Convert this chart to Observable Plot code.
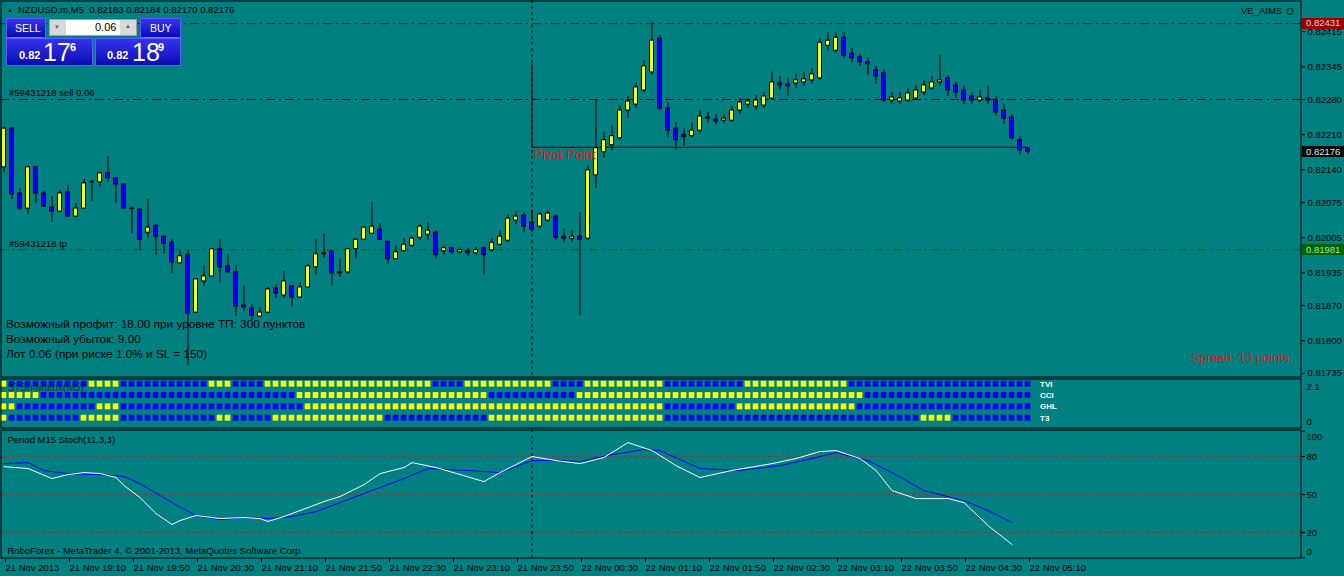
<!DOCTYPE html>
<html><head><meta charset="utf-8">
<script src="https://cdn.jsdelivr.net/npm/d3@7"></script>
<script src="https://cdn.jsdelivr.net/npm/@observablehq/plot@0.6"></script>
<style>
body{margin:0;background:#008080;}
#root{position:relative;width:1344px;height:576px;overflow:hidden;background:#008080;font-family:"Liberation Sans",Arial,sans-serif;}
#root svg{position:absolute;left:0;}
.abs{position:absolute;white-space:nowrap;}
</style></head><body><div id="root"></div>
<script>
// ---------- DATA (NZDUSD.m M5, prices x 1e5) ----------
const open5 = [82145,82222,82093,82063,82145,82093,82065,82057,82095,82047,82063,82115,82115,82133,82123,82111,82063,82061,82015,82029,
82007,81995,81954,81970,81856,81918,81928,81982,81948,81936,81870,81864,81848,81856,81904,81890,81908,81886,81906,81946,
81972,81978,81934,81936,81982,82001,82013,82021,81997,81962,81978,81989,82005,82011,82015,81978,81984,81976,81978,81974,
81984,81980,81991,81999,82039,82049,82035,82027,82039,82047,82007,82003,82007,82003,82129,82175,82189,82203,82258,82270,
82298,82334,82401,82262,82222,82209,82207,82218,82242,82240,82238,82238,82258,82270,82266,82268,82282,82312,82310,82312,
82314,82318,82322,82387,82377,82403,82371,82364,82354,82338,82332,82278,82276,82278,82282,82294,82302,82314,82322,82308,
82298,82286,82278,82282,82278,82258,82244,82199,82183];
const close5 = [82222,82091,82063,82145,82093,82067,82057,82093,82047,82063,82113,82116,82133,82123,82111,82063,82062,82001,82025,82007,
81993,81956,81968,81854,81922,81928,81982,81946,81936,81868,81866,81850,81856,81902,81894,81918,81886,81906,81948,81972,
81974,81934,81936,81982,82001,82025,82027,82001,81962,81976,81991,82003,82027,82019,81970,81984,81976,81980,81974,81980,
81970,81995,82007,82043,82047,82027,82021,82051,82053,82005,82003,82007,82001,82139,82183,82199,82207,82258,82276,82304,
82346,82397,82262,82218,82199,82205,82218,82246,82244,82236,82242,82258,82274,82276,82278,82286,82314,82308,82306,82318,
82320,82330,82393,82397,82403,82367,82362,82354,82350,82326,82278,82284,82282,82292,82298,82308,82314,82318,82298,82294,
82278,82278,82284,82278,82254,82242,82203,82179,82176];
const high5 = [82226,82224,82103,82147,82147,82097,82087,82099,82109,82073,82121,82119,82135,82167,82123,82111,82067,82061,82081,82029,
82007,82001,81979,81980,81922,81950,81982,82001,81972,81950,81910,81872,81866,81906,81912,81938,81908,81916,81952,82001,
82013,81978,81962,81982,82003,82027,82075,82033,81997,81989,82003,82007,82031,82035,82019,81989,81987,81984,81984,81986,
81989,82003,82019,82051,82057,82055,82059,82055,82059,82051,82023,82019,82055,82149,82278,82215,82228,82268,82286,82314,
82358,82433,82407,82274,82234,82222,82234,82258,82254,82250,82250,82266,82282,82282,82288,82294,82334,82326,82322,82330,
82334,82342,82401,82413,82413,82413,82381,82369,82362,82346,82338,82294,82294,82302,82308,82318,82326,82367,82328,82314,
82306,82294,82298,82306,82286,82270,82250,82207,82184];
const low5 = [82135,82081,82059,82051,82073,82065,82035,82055,82045,82045,82063,82077,82105,82115,82073,82063,82013,81980,82005,81970,
81972,81934,81954,81751,81856,81908,81928,81914,81936,81848,81858,81840,81848,81856,81884,81884,81866,81884,81906,81930,
81964,81910,81926,81932,81962,82001,82013,82001,81952,81962,81976,81985,81999,81999,81962,81970,81972,81972,81968,81970,
81930,81976,81987,81995,82031,82015,82015,82023,82035,81999,81995,81995,81850,81999,82103,82163,82179,82199,82242,82262,
82294,82328,82258,82203,82179,82187,82203,82212,82234,82230,82232,82234,82250,82262,82258,82262,82278,82298,82286,82302,
82306,82310,82318,82377,82373,82361,82354,82346,82328,82310,82274,82270,82270,82274,82278,82288,82298,82306,82286,82282,
82270,82270,82274,82270,82248,82230,82199,82169,82170];

const timeLabels = ["21 Nov 2013","21 Nov 19:10","21 Nov 19:50","21 Nov 20:30","21 Nov 21:10","21 Nov 21:50","21 Nov 22:30",
"21 Nov 23:10","21 Nov 23:50","22 Nov 00:30","22 Nov 01:10","22 Nov 01:50","22 Nov 02:30","22 Nov 03:10","22 Nov 03:50",
"22 Nov 04:30","22 Nov 05:10"];
const priceTicks = [0.82415,0.82345,0.82280,0.82210,0.82140,0.82075,0.82005,0.81935,0.81870,0.81800,0.81735];
const slPrice = 0.82431, orderPrice = 0.82280, tpPrice = 0.81981, bidPrice = 0.82176, pivotPrice = 0.82185;
const pivotStemTop = 0.82350;
const daySeparatorBar = 66;

// STSn-Matrix rows: run lengths of Y(yellow)/B(blue)
const rowNames = ["TVI","CCI","GHL","T3"];
const tviRuns = [["Y",1],["B",10],["Y",4],["B",11],["Y",3],["B",4],["Y",21],["B",4],["Y",11],["B",4],["Y",10],["B",10],["Y",13],["B",23]];
const cciRuns = [["Y",5],["B",32],["Y",24],["B",11],["Y",36],["B",21]];
const ghlRuns = [["Y",2],["B",10],["Y",3],["B",23],["Y",45],["B",9],["Y",15],["B",22]];
const t3Runs  = [["Y",1],["B",9],["Y",5],["B",12],["Y",2],["B",5],["Y",14],["B",13],["Y",22],["B",32],["Y",4],["B",10]];

// Stochastic (bar index, value)
const stochMainBars = [0,3,6,8,10,12,14,15,17,19,21,22,24,27,30,32,33,35,37,40,42,45,47,50,51,54,60,62,66,69,72,75,78,81,84,87,91,96,99,102,104,107,109,111,114,118,120,123,126];
const stochMainVals = [72,70.5,62.6,65.7,67.3,66.6,63.4,57.1,47.6,35,26.3,29.4,33.4,31,31.8,31,28.7,32.6,37.3,44.4,48.4,57.8,66.5,71.3,75.2,71.3,60.2,67.3,80,76.8,74.4,79.2,91,84.7,72.8,63.4,69,74.4,78.4,83.9,84.7,78.4,69,53.1,46.8,46.8,43.6,25.5,10.5];
const stochSigBars = [0,3,5,8,12,15,17,21,24,27,30,33,36,39,43,47,50,53,58,62,66,70,72,76,80,82,87,92,97,101,104,108,111,115,120,123,126];
const stochSigVals = [74.4,75.2,68.9,66.5,65.7,64.2,58.6,43.6,33.4,30.2,31.8,31,32.6,36.5,46,55.5,62.6,70.5,68.9,67.3,76.8,76.8,76,81.5,85.5,84.7,70.5,68.9,72.8,78.4,83.1,76.8,67.3,53.1,45.2,37.3,27.9];

// ---------- BUILD ----------
const W = 1344, RIGHT = 43;
const FONT = '"Liberation Sans",Arial,sans-serif';
const xDomain = [-0.4375, 162.1875];
const candles = open5.map((o,i)=>({i, o:o/1e5, c:close5[i]/1e5, h:high5[i]/1e5, l:low5[i]/1e5}));
const expand = runs => runs.flatMap(([v,n]) => Array(n).fill(v));
const cells = [tviRuns,cciRuns,ghlRuns,t3Runs].flatMap((runs,r)=>expand(runs).map((v,i)=>({i,row:3-r,v})));
const mainPts = stochMainBars.map((b,k)=>({i:b,v:stochMainVals[k]}));
const sigPts = stochSigBars.map((b,k)=>({i:b,v:stochSigVals[k]}));
const root = document.getElementById("root");
const DASHDOT = "9,4,2,4";
const baseStyle = {background:"transparent", fontFamily:FONT, fontSize:"9.5px", color:"black", overflow:"visible"};

const p1 = Plot.plot({
  width:W, height:377, marginLeft:0, marginRight:RIGHT, marginTop:0, marginBottom:0,
  style:baseStyle,
  x:{domain:xDomain, axis:null, label:null},
  y:{domain:[0.817268,0.82477], label:null},
  marks:[
    Plot.ruleY([slPrice],{stroke:"#8b0000", strokeDasharray:DASHDOT}),
    Plot.ruleY([orderPrice],{stroke:"black", strokeDasharray:DASHDOT}),
    Plot.ruleY([tpPrice],{stroke:"#006400", strokeDasharray:DASHDOT}),
    Plot.ruleX([daySeparatorBar],{stroke:"black", strokeDasharray:"3,3"}),
    Plot.ruleX([daySeparatorBar],{y1:pivotPrice, y2:pivotStemTop, stroke:"black"}),
    Plot.ruleY([pivotPrice],{x1:daySeparatorBar, x2:128.1, stroke:"black"}),
    Plot.ruleX(candles,{x:"i", y1:"l", y2:"h", stroke:"black"}),
    Plot.rect(candles,{x1:d=>d.i-0.25, x2:d=>d.i+0.25, y1:"o", y2:"c", fill:d=>d.c>=d.o?"#ffff00":"#0000ff", stroke:"black"}),
    Plot.ruleY(candles.filter(d=>Math.abs(d.o-d.c)<0.000005),{y:"o", x1:d=>d.i-0.3, x2:d=>d.i+0.3, stroke:"black"}),
    Plot.axisY({anchor:"right", ticks:priceTicks, tickFormat:d3.format(".5f"), tickSize:3, tickPadding:3, label:null}),
    Plot.frame({stroke:"black", inset:0.5})
  ]
});
p1.style.top = "0px";
root.appendChild(p1);

const p2 = Plot.plot({
  width:W, height:50, marginLeft:0, marginRight:RIGHT, marginTop:0, marginBottom:0,
  style:baseStyle,
  x:{domain:xDomain, axis:null, label:null},
  y:{domain:[-0.909,3.503], axis:null, label:null},
  marks:[
    Plot.rect(cells,{x1:d=>d.i-0.35, x2:d=>d.i+0.35, y1:d=>d.row-0.26, y2:d=>d.row+0.26, fill:d=>d.v==="Y"?"#ffff00":"#0000ff"}),
    Plot.text(rowNames,{x:129.5, y:(d,k)=>3-k, text:d=>d, fill:"white", textAnchor:"start", fontSize:8, fontWeight:"bold"}),
    Plot.text(["STSn-Matrix(M5)"],{frameAnchor:"top-left", dx:7, dy:9, lineAnchor:"middle", textAnchor:"start", fill:"#1e2e2e", fontSize:10}),
    Plot.text(["2.1"],{frameAnchor:"top-right", dx:5, dy:8, lineAnchor:"middle", textAnchor:"start", fill:"black"}),
    Plot.text(["0"],{frameAnchor:"bottom-right", dx:5, dy:-7, lineAnchor:"middle", textAnchor:"start", fill:"black"}),
    Plot.frame({stroke:"black", inset:0.5})
  ]
});
p2.style.top = "378px";
root.appendChild(p2);

const p3 = Plot.plot({
  width:W, height:147, marginLeft:0, marginRight:RIGHT, marginTop:0, marginBottom:18,
  style:baseStyle,
  x:{domain:xDomain, label:null},
  y:{domain:[-0.55,101.34], label:null},
  marks:[
    Plot.ruleY([20,50,80],{stroke:"#6a4a4a", strokeDasharray:"3,3"}),
    Plot.ruleX([daySeparatorBar],{stroke:"black", strokeDasharray:"3,3"}),
    Plot.line(sigPts,{x:"i", y:"v", stroke:"#0000ff", strokeWidth:1}),
    Plot.line(mainPts,{x:"i", y:"v", stroke:"white", strokeWidth:1}),
    Plot.axisY({anchor:"right", ticks:[0,20,50,80,100], tickFormat:d=>(d===0||d===100)?"":d, tickSize:3, tickPadding:2, label:null}),
    Plot.text(["100"],{y:d=>100, frameAnchor:"right", dx:5, dy:6, textAnchor:"start", fill:"black"}),
    Plot.text(["0"],{y:d=>0, frameAnchor:"right", dx:5, dy:-6, textAnchor:"start", fill:"black"}),
    Plot.axisX({anchor:"bottom", ticks:d3.range(0,129,8), tickFormat:d=>timeLabels[d/8], textAnchor:"start", dx:1.5, tickSize:4, tickPadding:2, label:null}),
    Plot.text(["Period M15 Stoch(11,3,3)"],{frameAnchor:"top-left", dx:7, dy:10, lineAnchor:"middle", textAnchor:"start", fill:"black"}),
    Plot.text(["RoboForex - MetaTrader 4, © 2001-2013, MetaQuotes Software Corp."],{frameAnchor:"bottom-left", dx:7, dy:-8, lineAnchor:"middle", textAnchor:"start", fill:"black"}),
    Plot.frame({stroke:"black", inset:0.5})
  ]
});
p3.style.top = "429px";
root.appendChild(p3);

// ---------- HTML overlays ----------
const ys = p1.scale("y"), xs = p1.scale("x");
function txt(s, left, cy, size, color, extra){
  const d = document.createElement("div");
  d.className = "abs"; d.textContent = s;
  Object.assign(d.style,{left:left+"px", top:(cy-size*0.6)+"px", fontSize:size+"px", lineHeight:(size*1.2)+"px", color:color||"black"}, extra||{});
  root.appendChild(d); return d;
}
function box(left, top, w, h, style){
  const d = document.createElement("div"); d.className="abs";
  Object.assign(d.style,{left:left+"px", top:top+"px", width:w+"px", height:h+"px", boxSizing:"border-box"}, style||{});
  root.appendChild(d); return d;
}
// price labels on right axis
[[slPrice,"#9a0000","#f0c8c8"],[bidPrice,"#000000","#c8f0f0"],[tpPrice,"#006400","#a8e0a8"]].forEach(([p,bg,fg])=>{
  const y = ys.apply(p);
  box(1302, y-5.5, 42, 11, {background:bg});
  txt(d3.format(".5f")(p), 1306, y, 9.5, fg);
});
// header
txt("▲", 7, 11, 6, "black");
txt("NZDUSD.m,M5  0.82183 0.82184 0.82170 0.82176", 18, 10, 9.5, "black", {whiteSpace:"pre"});
txt("VE_AIMS", 1241, 11, 9.5, "black");
txt("☺", 1284, 11, 12, "black");
// order labels
txt("#59431218 sell 0.06", 9, ys.apply(orderPrice)-6, 9.5, "black");
txt("#59431218 tp", 9, ys.apply(tpPrice)-6, 9.5, "black");
// pivot & spread
txt("Pivot Point", xs.apply(daySeparatorBar)+2, ys.apply(pivotPrice)+8, 13, "#e8141c");
txt("Spread: 13 points.", 1191, 358, 12.5, "#e8141c");
// risk texts
txt("Возможный профит: 18.00 при уровне ТП: 300 пунктов", 6, 324, 11.8, "black");
txt("Возможный убыток: 9.00", 6, 339, 11.8, "black");
txt("Лот 0.06 (при риске 1.0% и SL = 150)", 6, 354, 11.8, "black");
// one-click trading panel
const btn = {background:"linear-gradient(#3434ee,#0c0cb4)", border:"1px solid #5c5cff"};
box(6,18,40,20,btn); txt("SELL", 15, 28, 10.5, "white");
box(140,18,41,20,btn); txt("BUY", 150, 28, 10.5, "white");
box(10,37,32,1,{background:"#8080ff"}); box(144,37,33,1,{background:"#8080ff"});
box(49,19,88,17,{background:"white", border:"1px solid #a0a0a0"});
box(50,20,16,15,{background:"#d8d8d8"}); box(120,20,16,15,{background:"#d8d8d8"});
txt("▼", 54, 27.5, 6, "#506080"); txt("▲", 125, 27, 6, "#506080");
txt("0.06", 95, 27.5, 11, "black");
box(6,38,87,28,btn); box(95,38,86,28,btn);
txt("0.82", 19, 56, 11, "white", {fontWeight:"bold"});
txt("17", 43, 52, 25, "white");
txt("6", 70, 48, 11, "white", {fontWeight:"bold"});
txt("0.82", 107, 56, 11, "white", {fontWeight:"bold"});
txt("18", 132, 52, 25, "white");
txt("9", 158, 48, 11, "white", {fontWeight:"bold"});
</script></body></html>
